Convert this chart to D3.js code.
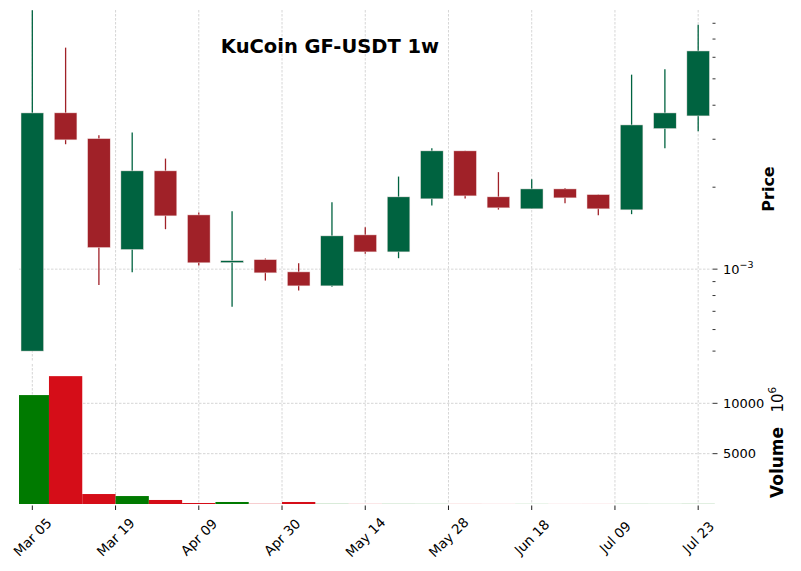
<!DOCTYPE html>
<html lang="en">
<head>
    <meta charset="UTF-8">
    <script src="https://cdn.jsdelivr.net/npm/d3@7"></script>
    <title>KuCoin GF-USDT 1w</title>
    <style>
        body { margin: 0; background: #fff; }
        svg { display: block; font-family: "DejaVu Sans", sans-serif; }
        .grid line { stroke: #c4c4c4; stroke-width: 0.7px; stroke-dasharray: 2.5 1.5; }
    </style>
</head>
<body>
    <div id="chart"></div>
    <script>
        // weekly candles, Mar 05 .. Jul 23
        const dates = ["Mar 05", "Mar 12", "Mar 19", "Mar 26", "Apr 02", "Apr 09", "Apr 16",
            "Apr 23", "Apr 30", "May 07", "May 14", "May 21", "May 28", "Jun 04",
            "Jun 11", "Jun 18", "Jun 25", "Jul 02", "Jul 09", "Jul 16", "Jul 23"];

        const opens = [0.000500, 0.003750, 0.003017, 0.001180, 0.002296, 0.001582, 0.001063,
            0.001084, 0.000977, 0.000868, 0.001336, 0.001157, 0.001812, 0.002719,
            0.001843, 0.001665, 0.001971, 0.001879, 0.001651, 0.003282, 0.003654];
        const highs = [0.008930, 0.006510, 0.003104, 0.003173, 0.002547, 0.001613, 0.001633,
            0.001094, 0.001052, 0.001762, 0.001426, 0.002188, 0.002782, 0.002719,
            0.002271, 0.002140, 0.001988, 0.001879, 0.005180, 0.005423, 0.007907];
        const lows = [0.000500, 0.002876, 0.000874, 0.000975, 0.001402, 0.001031, 0.000727,
            0.000908, 0.000835, 0.000861, 0.001138, 0.001097, 0.001712, 0.001816,
            0.001655, 0.001665, 0.001747, 0.001578, 0.001592, 0.002782, 0.003211];
        const closes = [0.003748, 0.002984, 0.001200, 0.002296, 0.001569, 0.001055, 0.001068,
            0.000969, 0.000868, 0.001325, 0.001157, 0.001843, 0.002719, 0.001858,
            0.001679, 0.001971, 0.001827, 0.001665, 0.003386, 0.003748, 0.006330];
        // volume in units of 10^6
        const volumes = [10820, 12700, 990, 790, 400, 100, 200, 20, 200, 15, 10, 12, 10, 8,
            6, 8, 5, 6, 10, 8, 12];

        const tickPos = [0, 2.5, 5, 7.5, 10, 12.5, 15, 17.5, 20];
        const tickLabels = ["Mar 05", "Mar 19", "Apr 09", "Apr 30", "May 14", "May 28", "Jun 18", "Jul 09", "Jul 23"];
        const volTicks = [5000, 10000];

        const width = 801, height = 571;
        const left = 19, right = 711.5;
        const priceTop = 10, priceBottom = 362;
        const volTop = 364, volBottom = 504;

        const upColor = "#006340", downColor = "#a02128";
        const volUp = "#007a00", volDown = "#d50d18";

        const candles = dates.map((d, i) => ({
            i, date: d, open: opens[i], high: highs[i], low: lows[i], close: closes[i], vol: volumes[i]
        }));

        const svg = d3.select("#chart").append("svg")
            .attr("width", width)
            .attr("height", height);

        const x = d3.scaleLinear().domain([-0.4, candles.length - 0.6]).range([left, right]);
        const step = x(1) - x(0);
        const y = d3.scaleLog().domain([0.000456, 0.00895]).range([priceBottom, priceTop]);
        const yv = d3.scaleLinear().domain([0, d3.max(volumes) * 1.095]).range([volBottom, volTop]);

        // grid lines
        const grid = svg.append("g").attr("class", "grid");
        tickPos.forEach(t => {
            grid.append("line").attr("x1", x(t)).attr("x2", x(t)).attr("y1", priceTop).attr("y2", priceBottom);
            grid.append("line").attr("x1", x(t)).attr("x2", x(t)).attr("y1", volTop).attr("y2", volBottom);
        });
        grid.append("line").attr("x1", left).attr("x2", right).attr("y1", y(0.001)).attr("y2", y(0.001));
        volTicks.forEach(v => {
            grid.append("line").attr("x1", left).attr("x2", right).attr("y1", yv(v)).attr("y2", yv(v));
        });

        // candles
        const cg = svg.append("g");
        cg.selectAll("line.wick")
            .data(candles)
            .enter()
            .append("line")
            .attr("class", "wick")
            .attr("x1", d => x(d.i)).attr("x2", d => x(d.i))
            .attr("y1", d => y(d.high)).attr("y2", d => y(d.low))
            .attr("stroke", d => d.close >= d.open ? upColor : downColor)
            .attr("stroke-width", 1.3);

        const bodyW = step * 0.68;
        cg.selectAll("rect.body")
            .data(candles)
            .enter()
            .append("rect")
            .attr("class", "body")
            .attr("x", d => x(d.i) - bodyW / 2)
            .attr("width", bodyW)
            .attr("y", d => {
                const top = y(Math.max(d.open, d.close));
                const h = y(Math.min(d.open, d.close)) - top;
                return h < 2 ? top - (2 - h) / 2 : top;
            })
            .attr("height", d => Math.max(2, y(Math.min(d.open, d.close)) - y(Math.max(d.open, d.close))))
            .attr("fill", d => d.close >= d.open ? upColor : downColor)
            .attr("stroke", "#f4e6e6")
            .attr("stroke-width", 0.5);

        // volume bars
        const vg = svg.append("g");
        vg.selectAll("rect")
            .data(candles)
            .enter()
            .append("rect")
            .attr("x", d => Math.max(left, x(d.i) - step / 2))
            .attr("width", d => x(d.i) + step / 2 - Math.max(left, x(d.i) - step / 2))
            .attr("y", d => yv(d.vol))
            .attr("height", d => volBottom - yv(d.vol))
            .attr("fill", d => d.close >= d.open ? volUp : volDown);

        // price axis ticks (log, right side)
        const pt = svg.append("g");
        const minorVals = [];
        [-4, -3].forEach(k => {
            for (let m = 1; m <= 9; m++) {
                const v = m * Math.pow(10, k);
                if (v >= y.domain()[0] && v <= y.domain()[1]) minorVals.push(v);
            }
        });
        minorVals.forEach(v => {
            const major = Math.abs(v - 0.001) < 1e-9;
            pt.append("line")
                .attr("x1", right + 1).attr("x2", right + 1 + (major ? 5 : 3))
                .attr("y1", y(v)).attr("y2", y(v))
                .attr("stroke", "#000").attr("stroke-width", 0.8);
        });
        const pl = pt.append("text")
            .attr("x", 723).attr("y", y(0.001) + 5)
            .attr("font-size", 13).attr("fill", "#000");
        pl.append("tspan").text("10");
        pl.append("tspan").attr("dy", -6).attr("font-size", 9.5).text("\u22123");

        // volume axis ticks
        volTicks.forEach(v => {
            pt.append("line")
                .attr("x1", right + 1).attr("x2", right + 6)
                .attr("y1", yv(v)).attr("y2", yv(v))
                .attr("stroke", "#000").attr("stroke-width", 0.8);
            pt.append("text")
                .attr("x", 723).attr("y", yv(v) + 4.5)
                .attr("font-size", 13).attr("fill", "#000")
                .text(v);
        });

        // x axis ticks
        tickPos.forEach((t, k) => {
            svg.append("line")
                .attr("x1", x(t)).attr("x2", x(t))
                .attr("y1", volBottom + 1.5).attr("y2", volBottom + 6)
                .attr("stroke", "#000").attr("stroke-width", 0.9);
            svg.append("text")
                .attr("transform", `translate(${x(t)},537) rotate(-45)`)
                .attr("text-anchor", "middle")
                .attr("dominant-baseline", "central")
                .attr("font-size", 13.5).attr("fill", "#000")
                .text(tickLabels[k]);
        });

        // labels
        svg.append("text")
            .attr("transform", "translate(774,189) rotate(-90)")
            .attr("text-anchor", "middle")
            .attr("font-size", 16).attr("font-weight", "bold")
            .text("Price");

        const vl = svg.append("text")
            .attr("transform", "translate(783,498) rotate(-90)")
            .attr("font-size", 17);
        vl.append("tspan").attr("font-weight", "bold").text("Volume");
        vl.append("tspan").attr("font-size", 15).text("\u00a0\u00a0\u00a010");
        vl.append("tspan").attr("font-size", 10.5).attr("dy", -7).text("6");

        svg.append("text")
            .attr("x", 330).attr("y", 53)
            .attr("text-anchor", "middle")
            .attr("font-size", 19.5).attr("font-weight", "bold")
            .text("KuCoin GF-USDT 1w");
    </script>
</body>
</html>
